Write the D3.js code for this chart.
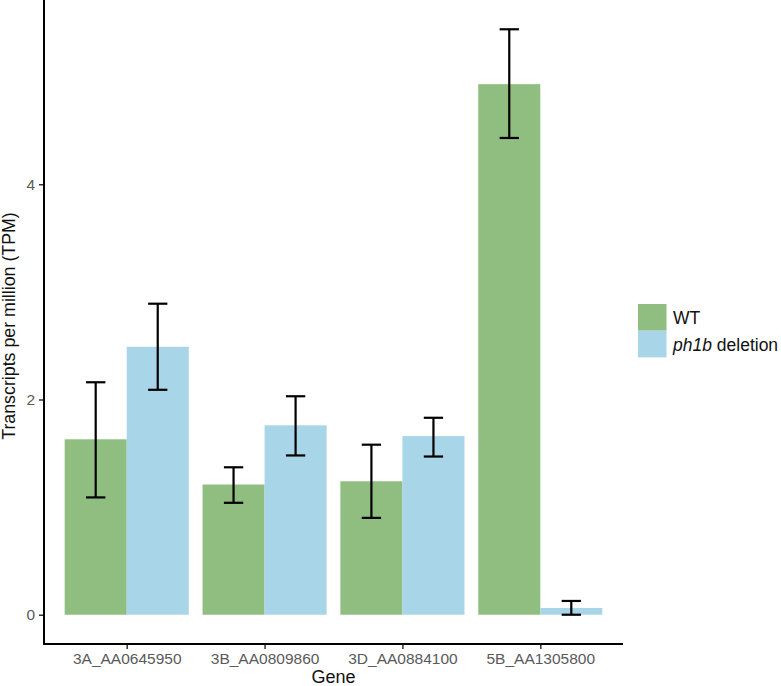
<!DOCTYPE html>
<html><head><meta charset="utf-8">
<script src="https://cdn.jsdelivr.net/npm/d3@7"></script>
<style>body{margin:0;background:#fff;} svg{display:block;font-family:Arial,"Liberation Sans",sans-serif;}</style>
</head><body>
<svg id="c" width="781" height="686"></svg>
<script>
const genes = ["3A_AA0645950","3B_AA0809860","3D_AA0884100","5B_AA1305800"];
const groups = ["WT","ph1b deletion"];
const wtMean = [1.63, 1.21, 1.24, 4.93];
const wtLow  = [1.09, 1.04, 0.90, 4.43];
const wtHigh = [2.16, 1.37, 1.58, 5.44];
const delMean = [2.49, 1.76, 1.66, 0.063];
const delLow  = [2.09, 1.48, 1.47, 0.00];
const delHigh = [2.89, 2.03, 1.83, 0.128];
const yTicks = [0, 2, 4];
const colors = ["#8FBE80", "#A8D5E8"];

const svg = d3.select("#c");
const L = 44, R = 623, T = 0, B = 644;
const x = d3.scaleLinear().domain([0.4, 4.6]).range([L, R]);
const y = d3.scaleLinear().domain([-0.272, 5.712]).range([B, T]);

const series = [
  {mean: wtMean, low: wtLow, high: wtHigh, off: -0.225, c: colors[0]},
  {mean: delMean, low: delLow, high: delHigh, off: 0.225, c: colors[1]}
];
const bw = 0.45, cap = 0.14;
series.forEach(s => {
  svg.append("g").selectAll("rect").data(genes).join("rect")
    .attr("x", (d,i) => x(i+1+s.off-bw/2))
    .attr("width", (d,i) => x(i+1+s.off+bw/2) - x(i+1+s.off-bw/2))
    .attr("y", (d,i) => y(s.mean[i]))
    .attr("height", (d,i) => y(0) - y(s.mean[i]))
    .attr("fill", s.c);
});
series.forEach(s => {
  const g = svg.append("g").attr("stroke","#000").attr("stroke-width",2.2).attr("fill","none");
  genes.forEach((d,i) => {
    const cx = i+1+s.off;
    g.append("line").attr("x1",x(cx)).attr("x2",x(cx)).attr("y1",y(s.low[i])).attr("y2",y(s.high[i]));
    g.append("line").attr("x1",x(cx-cap/2)).attr("x2",x(cx+cap/2)).attr("y1",y(s.low[i])).attr("y2",y(s.low[i]));
    g.append("line").attr("x1",x(cx-cap/2)).attr("x2",x(cx+cap/2)).attr("y1",y(s.high[i])).attr("y2",y(s.high[i]));
  });
});

// axes
const yAxis = d3.axisLeft(y).tickValues(yTicks).tickSize(5).tickPadding(4).tickFormat(d3.format("d"));
const ga = svg.append("g").attr("transform",`translate(${L},0)`).call(yAxis);
ga.select(".domain").remove();
ga.selectAll("line").attr("stroke","#333").attr("stroke-width",1.5);
ga.selectAll("text").attr("fill","#5A5A5A").attr("font-size",15.5);

const xAxis = d3.axisBottom(x).tickValues([1,2,3,4]).tickSize(5).tickPadding(4).tickFormat(d => genes[d-1]);
const gx = svg.append("g").attr("transform",`translate(0,${B})`).call(xAxis);
gx.select(".domain").remove();
gx.selectAll("line").attr("stroke","#333").attr("stroke-width",1.5);
gx.selectAll("text").attr("fill","#5A5A5A").attr("font-size",15.5);

svg.append("line").attr("x1",L).attr("x2",L).attr("y1",T).attr("y2",B+1).attr("stroke","#000").attr("stroke-width",2);
svg.append("line").attr("x1",L-1).attr("x2",R).attr("y1",B).attr("y2",B).attr("stroke","#000").attr("stroke-width",2);

svg.append("text").attr("x",(L+R)/2).attr("y",683).attr("text-anchor","middle").attr("font-size",18).attr("fill","#111").text("Gene");
svg.append("text").attr("transform",`translate(15,326) rotate(-90)`).attr("text-anchor","middle").attr("font-size",17.8).attr("fill","#111").text("Transcripts per million (TPM)");

// legend
const lg = svg.append("g").attr("transform","translate(638,304)");
groups.forEach((g,i) => {
  lg.append("rect").attr("x",0).attr("y",i*26.7).attr("width",28.5).attr("height",26.7).attr("fill",colors[i]);
});
lg.append("text").attr("x",35).attr("y",19.5).attr("font-size",17.5).attr("fill","#111").text(groups[0]);
const t2 = lg.append("text").attr("x",35).attr("y",46.5).attr("font-size",17.5).attr("fill","#111");
t2.append("tspan").attr("font-style","italic").text("ph1b");
t2.append("tspan").text(" deletion");
</script>
</body></html>
